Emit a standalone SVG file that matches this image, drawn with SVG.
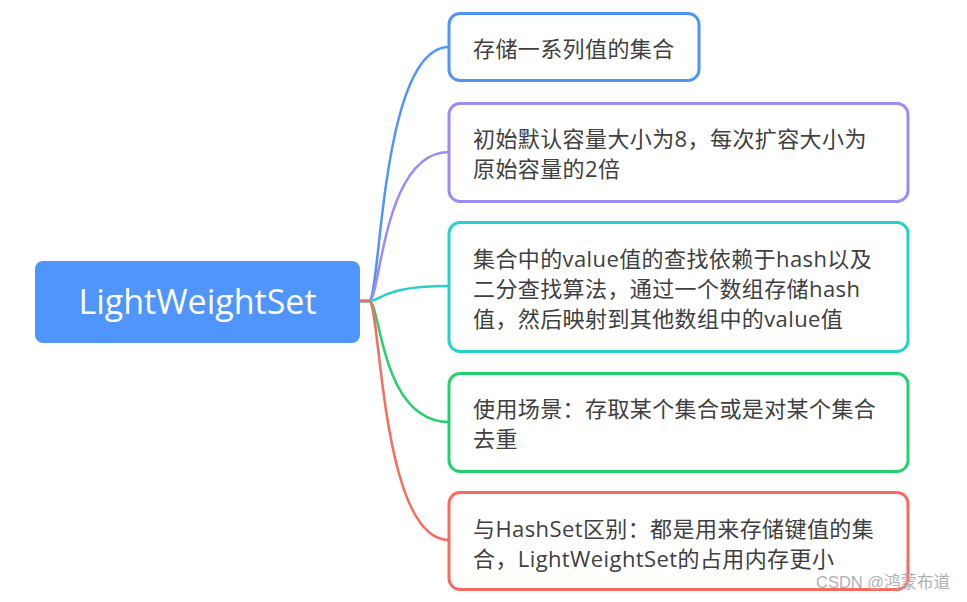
<svg xmlns="http://www.w3.org/2000/svg" width="967" height="602" viewBox="0 0 967 602">
<style>
  .box { fill: #ffffff; stroke-width: 3; }
  .t { font-family: "Open Sans", "Noto Sans CJK SC", sans-serif; font-size: 22px; fill: #404040; letter-spacing: 0.4px; }
  .root-t { font-family: "Open Sans", "Noto Sans CJK SC", sans-serif; font-size: 34px; fill: #ffffff; }
  .c { fill: none; stroke-width: 2.5; stroke-linecap: round; }
  .wm { font-family: "Liberation Sans", "Noto Sans CJK SC", sans-serif; font-size: 16.5px; fill: #b0b0b0; }
</style>
<rect width="967" height="602" fill="#ffffff"/>
<g id="connectors">
  <path class="c" stroke="#4e94f9" d="M360,301 L369,301 C381,301 380,47 449,47"/>
  <path class="c" stroke="#9d8af2" d="M360,301 L369,301 C381,301 382,152 449,152"/>
  <path class="c" stroke="#27d1c9" d="M360,301 L369,301 C381,301 382,286 449,286"/>
  <path class="c" stroke="#25d06e" d="M360,301 L369,301 C381,301 380,422 449,422"/>
  <path class="c" stroke="#f96b5e" d="M360,301 L369,301 C381,301 380,540 449,540"/>
</g>
<g id="root">
  <rect x="35" y="261" width="325" height="82" rx="8" fill="#4f95fc"/>
  <text class="root-t" x="197.5" y="314" text-anchor="middle">LightWeightSet</text>
</g>
<g id="n1">
  <rect class="box" x="449" y="13.5" width="250" height="67" rx="11" stroke="#4e94f9"/>
  <text class="t" x="473" y="57">存储一系列值的集合</text>
</g>
<g id="n2">
  <rect class="box" x="449" y="103.5" width="459" height="98" rx="11" stroke="#9d8af2"/>
  <text class="t" x="473" y="147">初始默认容量大小为8，每次扩容大小为</text>
  <text class="t" x="473" y="177">原始容量的2倍</text>
</g>
<g id="n3">
  <rect class="box" x="449" y="222.5" width="459" height="129" rx="11" stroke="#27d1c9"/>
  <text class="t" x="473" y="267">集合中的value值的查找依赖于hash以及</text>
  <text class="t" x="473" y="297">二分查找算法，通过一个数组存储hash</text>
  <text class="t" x="473" y="327">值，然后映射到其他数组中的value值</text>
</g>
<g id="n4">
  <rect class="box" x="449" y="373.5" width="459" height="98" rx="11" stroke="#25d06e"/>
  <text class="t" x="473" y="417">使用场景：存取某个集合或是对某个集合</text>
  <text class="t" x="473" y="447">去重</text>
</g>
<g id="n5">
  <rect class="box" x="449" y="492.5" width="459" height="97" rx="11" stroke="#f96b5e"/>
  <text class="t" x="473" y="537">与HashSet区别：都是用来存储键值的集</text>
  <text class="t" x="473" y="567">合，LightWeightSet的占用内存更小</text>
</g>
<text class="wm" x="816" y="588">CSDN @鸿蒙布道</text>
</svg>
